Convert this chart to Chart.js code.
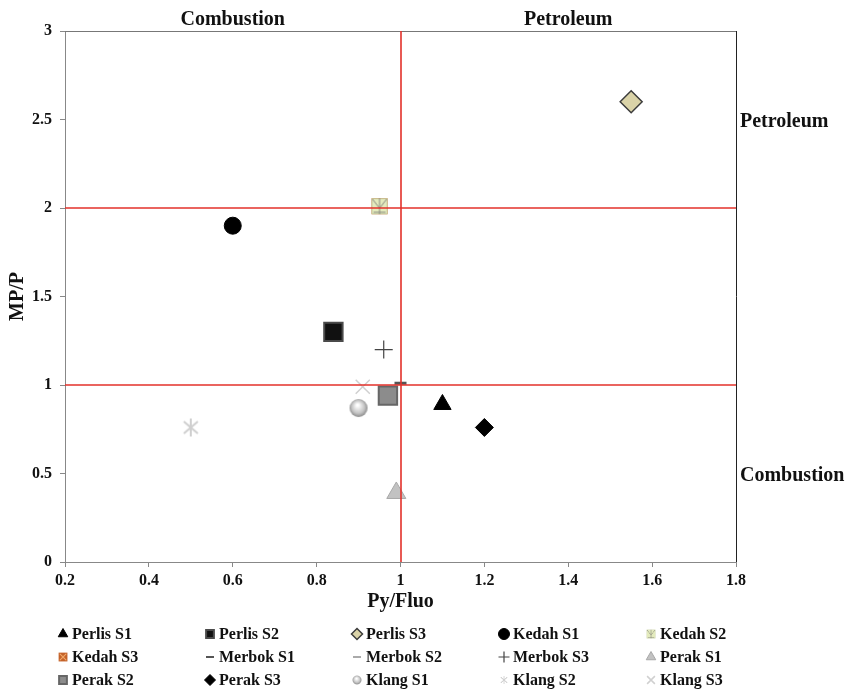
<!DOCTYPE html>
<html>
<head>
<meta charset="utf-8">
<script src="https://cdn.jsdelivr.net/npm/chart.js@4/dist/chart.umd.min.js"></script>
<style>
  html, body { margin: 0; padding: 0; background: #fff; }
  #wrap { width: 849px; height: 691px; position: relative; }
</style>
</head>
<body>
<div id="wrap"><canvas id="scatter"></canvas></div>
<script>
// sample names and the two ratios
const seriesNames = ['Perlis S1', 'Perlis S2', 'Perlis S3', 'Kedah S1', 'Kedah S2',
                     'Kedah S3', 'Merbok S1', 'Merbok S2', 'Merbok S3', 'Perak S1',
                     'Perak S2', 'Perak S3', 'Klang S1', 'Klang S2', 'Klang S3'];
const pyFluo = [1.10, 0.84, 1.55, 0.60, 0.95, 0.95, 1.00, 1.00, 0.96, 0.99, 0.97, 1.20, 0.90, 0.50, 0.91];
const mpP    = [0.89, 1.30, 2.60, 1.90, 2.01, 2.01, 1.01, 1.01, 1.20, 0.39, 0.94, 0.76, 0.87, 0.76, 0.99];

// axes
const xMin = 0.2, xMax = 1.8, xStep = 0.2;
const yMin = 0, yMax = 3, yStep = 0.5;

// red divider lines
const dividerX = [1];
const dividerY = [1, 2];

// region labels: top ones sit over an x value, right ones beside a y value
const topLabels = [['Combustion', 0.6], ['Petroleum', 1.4]];
const sideLabels = [['Petroleum', 2.5], ['Combustion', 0.5]];

const serif = "'Liberation Serif', 'Times New Roman', serif";

function makeMarker(size, draw) {
    const c = document.createElement('canvas');
    c.width = size;
    c.height = size;
    draw(c.getContext('2d'), size);
    return c;
}

const bowtie = makeMarker(18, (g, s) => {
    g.fillStyle = '#e4ebbd';
    g.fillRect(1, 1, s - 2, s - 2);
    g.strokeStyle = '#c9d0a2';
    g.strokeRect(1.5, 1.5, s - 3, s - 3);
    g.strokeStyle = '#8a8a80';
    g.lineWidth = 1;
    g.beginPath();
    g.moveTo(2, 2); g.lineTo(s / 2, s / 2 + 2); g.lineTo(s - 2, 2);
    g.moveTo(s / 2, 1); g.lineTo(s / 2, s - 1);
    g.moveTo(3, s - 3); g.lineTo(s - 3, s - 3);
    g.stroke();
});

const orangeBox = makeMarker(18, (g, s) => {
    g.fillStyle = '#c4622a';
    g.fillRect(1, 1, s - 2, s - 2);
    g.strokeStyle = '#f2a968';
    g.lineWidth = 2;
    g.beginPath();
    g.moveTo(3, 3); g.lineTo(s - 3, s - 3);
    g.moveTo(s - 3, 3); g.lineTo(3, s - 3);
    g.stroke();
});

const sphere = makeMarker(20, (g, s) => {
    const grad = g.createRadialGradient(s * 0.45, s * 0.35, 1, s / 2, s / 2, s / 2);
    grad.addColorStop(0, '#ffffff');
    grad.addColorStop(0.6, '#c4c4c4');
    grad.addColorStop(1, '#7c7c7c');
    g.fillStyle = grad;
    g.beginPath();
    g.arc(s / 2, s / 2, s / 2 - 1, 0, Math.PI * 2);
    g.fill();
});

// vertical bar plus an X, like the office "star" marker
const asterisk = makeMarker(22, (g, s) => {
    g.strokeStyle = '#cfcfcf';
    g.lineWidth = 2;
    g.beginPath();
    g.moveTo(s / 2, 2); g.lineTo(s / 2, s - 2);
    g.moveTo(4, 5); g.lineTo(s - 4, s - 5);
    g.moveTo(s - 4, 5); g.lineTo(4, s - 5);
    g.stroke();
});

const markerStyles = [
    { pointStyle: 'triangle', radius: 10, bg: '#000', border: '#000', bw: 1 },
    { pointStyle: 'rect', radius: 13, bg: '#111', border: '#4a4a4a', bw: 2 },
    { pointStyle: 'rectRot', radius: 11, bg: '#dad3a8', border: '#3c3c3c', bw: 1.5 },
    { pointStyle: 'circle', radius: 8.5, bg: '#000', border: '#000', bw: 1 },
    { pointStyle: bowtie, radius: 9, bg: '#e4ebbd', border: '#8a8a80', bw: 1 },
    { pointStyle: orangeBox, radius: 9, bg: '#c4622a', border: '#c4622a', bw: 1 },
    { pointStyle: 'line', radius: 6, bg: '#555', border: '#555', bw: 3 },
    { pointStyle: 'line', radius: 4, bg: '#aaa', border: '#aaa', bw: 2 },
    { pointStyle: 'cross', radius: 9, bg: '#444', border: '#444', bw: 1.2 },
    { pointStyle: 'triangle', radius: 11, bg: '#c2c2c2', border: '#a8a8a8', bw: 1 },
    { pointStyle: 'rect', radius: 13, bg: '#8c8c8c', border: '#666', bw: 2 },
    { pointStyle: 'rectRot', radius: 9, bg: '#000', border: '#000', bw: 1 },
    { pointStyle: sphere, radius: 10, bg: '#c4c4c4', border: '#888', bw: 1 },
    { pointStyle: asterisk, radius: 10, bg: '#d2d2d2', border: '#d2d2d2', bw: 2 },
    { pointStyle: 'crossRot', radius: 10, bg: '#d0d0d0', border: '#d0d0d0', bw: 1.5 }
];

const datasets = seriesNames.map((name, i) => ({
    label: name,
    data: [{ x: pyFluo[i], y: mpP[i] }],
    pointStyle: markerStyles[i].pointStyle,
    pointRadius: markerStyles[i].radius,
    pointHoverRadius: markerStyles[i].radius,
    backgroundColor: markerStyles[i].bg,
    borderColor: markerStyles[i].border,
    borderWidth: markerStyles[i].bw
}));

// frame, region labels, 3 x 5 legend, then the red dividers on top
const overlayPlugin = {
    id: 'overlay',
    afterDraw(chart) {
        const { ctx, chartArea: a, scales: { x, y } } = chart;
        ctx.save();

        ctx.lineWidth = 1;
        ctx.strokeStyle = '#777';
        ctx.beginPath();
        ctx.moveTo(a.left, a.top + 0.5); ctx.lineTo(a.right, a.top + 0.5);
        ctx.stroke();
        ctx.strokeStyle = '#222';
        ctx.beginPath();
        ctx.moveTo(a.right + 0.5, a.top); ctx.lineTo(a.right + 0.5, a.bottom);
        ctx.stroke();

        ctx.fillStyle = '#111';
        ctx.font = 'bold 20px ' + serif;
        ctx.textBaseline = 'middle';
        ctx.textAlign = 'center';
        topLabels.forEach(([t, v]) => ctx.fillText(t, x.getPixelForValue(v), a.top - 11));
        ctx.textAlign = 'left';
        sideLabels.forEach(([t, v]) => ctx.fillText(t, a.right + 4, y.getPixelForValue(v) + 2));

        ctx.font = 'bold 16px ' + serif;
        chart.data.datasets.forEach((ds, i) => {
            const mx = 63 + (i % 5) * 147;
            const my = 634 + Math.floor(i / 5) * 23;
            if (typeof ds.pointStyle === 'string') {
                ctx.fillStyle = ds.backgroundColor;
                ctx.strokeStyle = ds.borderColor;
                ctx.lineWidth = Math.min(ds.borderWidth, 2);
                Chart.helpers.drawPoint(ctx, {
                    pointStyle: ds.pointStyle,
                    radius: ds.pointStyle === 'line' ? 4 : 5.5,
                    rotation: 0,
                    borderWidth: ctx.lineWidth
                }, mx, my);
            } else {
                ctx.drawImage(ds.pointStyle, mx - 5, my - 5, 10, 10);
            }
            ctx.fillStyle = '#111';
            ctx.fillText(ds.label, mx + 9, my + 1);
        });

        ctx.lineWidth = 1.6;
        dividerX.forEach(v => {
            const px = Math.round(x.getPixelForValue(v));
            ctx.strokeStyle = '#e3302a';
            ctx.beginPath(); ctx.moveTo(px, a.top); ctx.lineTo(px, a.bottom); ctx.stroke();
        });
        dividerY.forEach(v => {
            const py = Math.round(y.getPixelForValue(v));
            ctx.strokeStyle = '#e3302a';
            ctx.beginPath(); ctx.moveTo(a.left, py); ctx.lineTo(a.right, py); ctx.stroke();
        });
        ctx.restore();
    }
};

// "1" not "1.0", "3" not "3.0"
const plainTick = v => String(Number(v.toFixed(2)));

new Chart(document.getElementById('scatter').getContext('2d'), {
    type: 'scatter',
    data: { datasets },
    options: {
        responsive: true,
        maintainAspectRatio: false,
        animation: false,
        layout: { padding: { top: 31, right: 113, bottom: 77, left: 0 } },
        plugins: {
            legend: { display: false },
            tooltip: { enabled: false }
        },
        scales: {
            x: {
                type: 'linear',
                min: xMin,
                max: xMax,
                afterFit: s => { s.height = 52; },
                ticks: {
                    stepSize: xStep,
                    color: '#111',
                    padding: 4,
                    callback: plainTick,
                    font: { family: serif, size: 16, weight: 'bold' }
                },
                grid: { drawOnChartArea: false, drawTicks: true, tickLength: 5, color: '#888' },
                border: { display: true, color: '#888' },
                title: {
                    display: true,
                    text: 'Py/Fluo',
                    color: '#111',
                    padding: 0,
                    font: { family: serif, size: 20, weight: 'bold' }
                }
            },
            y: {
                type: 'linear',
                min: yMin,
                max: yMax,
                afterFit: s => { s.width = 65; },
                ticks: {
                    stepSize: yStep,
                    color: '#111',
                    padding: 8,
                    callback: plainTick,
                    font: { family: serif, size: 16, weight: 'bold' }
                },
                grid: { drawOnChartArea: false, drawTicks: true, tickLength: 5, color: '#888' },
                border: { display: true, color: '#888' },
                title: {
                    display: true,
                    text: 'MP/P',
                    color: '#111',
                    padding: { top: 6, bottom: 0 },
                    font: { family: serif, size: 20, weight: 'bold' }
                }
            }
        }
    },
    plugins: [overlayPlugin]
});
</script>
</body>
</html>
